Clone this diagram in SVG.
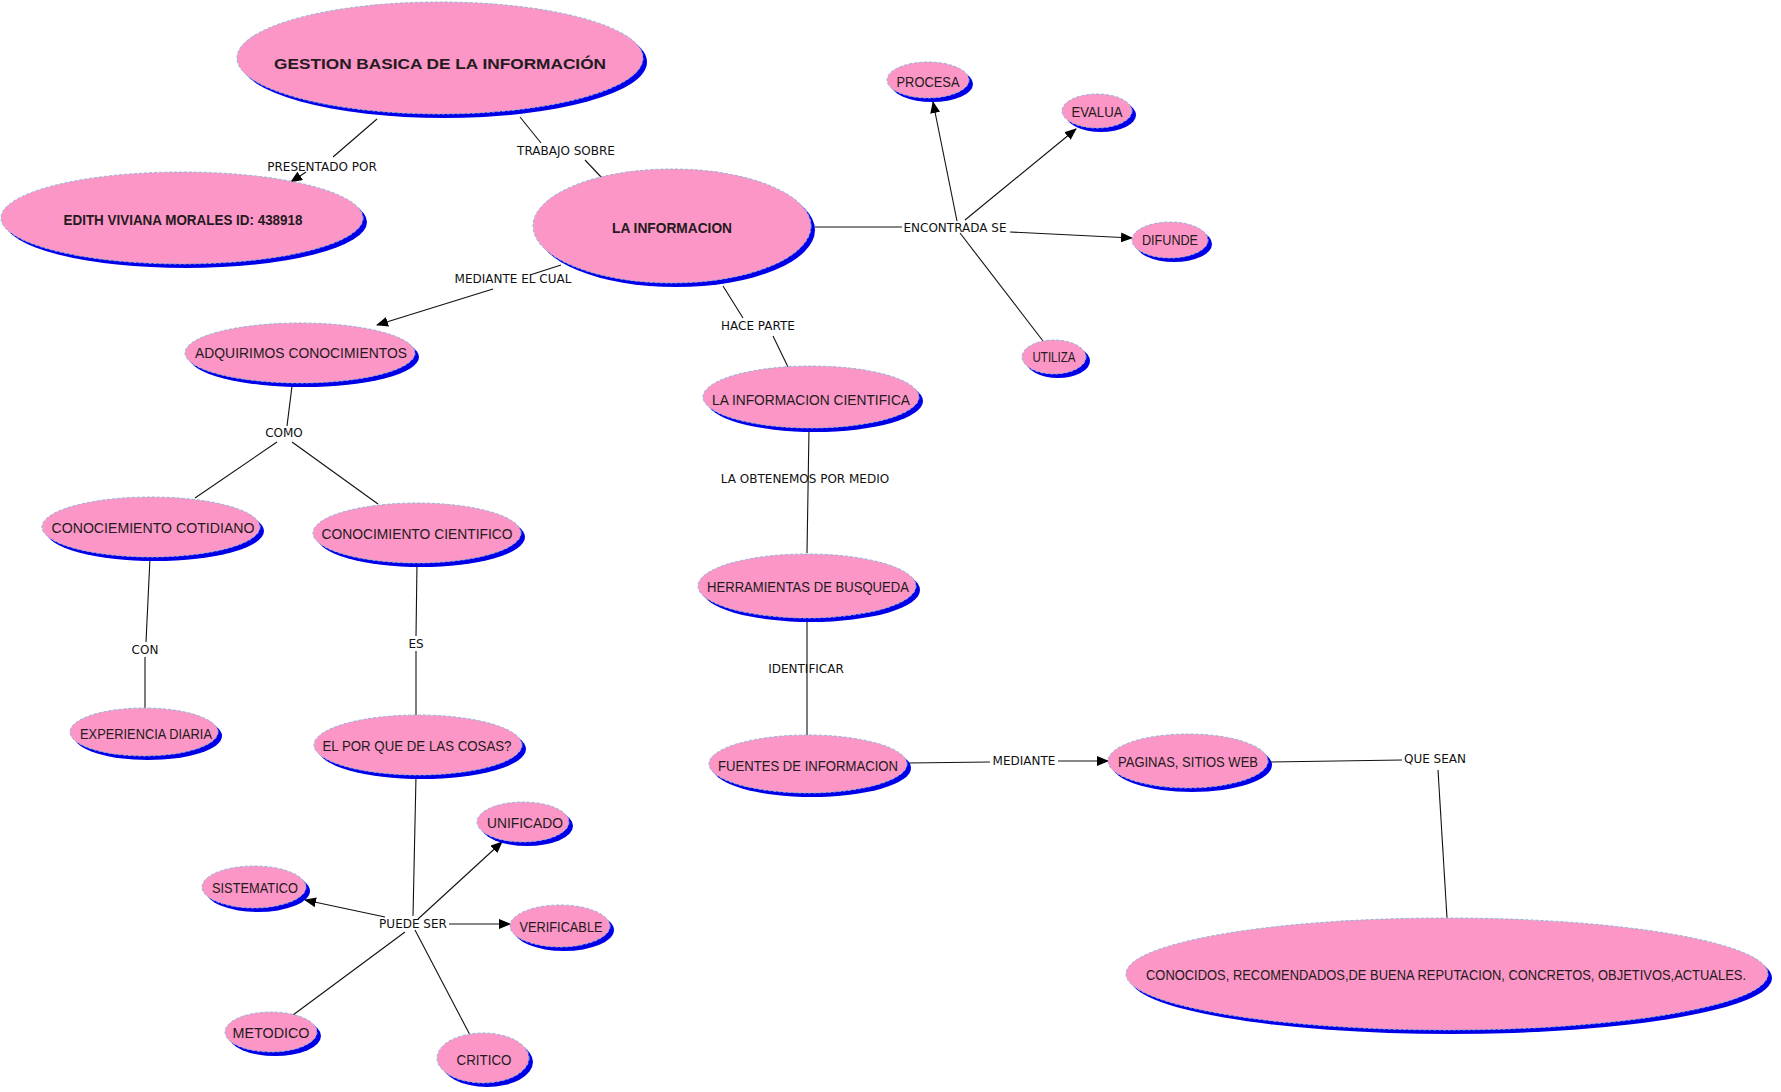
<svg xmlns="http://www.w3.org/2000/svg" width="1781" height="1092" viewBox="0 0 1781 1092">
<style>
.s{fill:#0000e8}
.n{fill:#fb96c6;stroke:#8ab6d6;stroke-width:1;stroke-dasharray:3 2}
.t{font-family:"Liberation Sans",Arial,sans-serif;font-size:15px;fill:#241a20;text-anchor:middle}
.b{font-weight:bold}
.l{font-family:"DejaVu Sans",Verdana,sans-serif;font-size:12px;fill:#111;text-anchor:middle}
.c line{stroke:#111;stroke-width:1.1;fill:none}
.c line.a{marker-end:url(#ah)}
</style>
<defs>
<marker id="ah" markerUnits="userSpaceOnUse" markerWidth="12" markerHeight="10" refX="11" refY="5" orient="auto">
<path d="M0,0 L12,5 L0,10 z" fill="#000"/>
</marker>
</defs>
<rect width="1781" height="1092" fill="#fff"/>
<g class="c" id="connectors">
<line x1="377" y1="119" x2="333" y2="157"/>
<line class="a" x1="306" y1="172" x2="291" y2="182"/>
<line x1="520" y1="117" x2="541" y2="143"/>
<line x1="585" y1="160" x2="602" y2="178"/>
<line x1="561" y1="265" x2="530" y2="275"/>
<line class="a" x1="493" y1="289" x2="377" y2="325"/>
<line x1="723" y1="286" x2="743" y2="318"/>
<line x1="773" y1="336" x2="788" y2="367"/>
<line x1="815" y1="227" x2="902" y2="227"/>
<line class="a" x1="957" y1="221" x2="933" y2="102"/>
<line class="a" x1="965" y1="220" x2="1076" y2="129"/>
<line class="a" x1="1010" y1="232" x2="1132" y2="238"/>
<line x1="960" y1="233" x2="1043" y2="341"/>
<line x1="292" y1="386" x2="287" y2="426"/>
<line x1="277" y1="442" x2="195" y2="498"/>
<line x1="292" y1="442" x2="378" y2="504"/>
<line x1="150" y1="558" x2="146" y2="642"/>
<line x1="145" y1="657" x2="145" y2="708"/>
<line x1="417" y1="563" x2="416" y2="636"/>
<line x1="416" y1="651" x2="416" y2="715"/>
<line x1="416" y1="776" x2="413" y2="916"/>
<line class="a" x1="385" y1="917" x2="305" y2="900"/>
<line class="a" x1="418" y1="919" x2="502" y2="842"/>
<line class="a" x1="449" y1="924" x2="510" y2="924"/>
<line x1="405" y1="932" x2="293" y2="1015"/>
<line x1="415" y1="930" x2="470" y2="1035"/>
<line x1="809" y1="429" x2="807" y2="553"/>
<line x1="807" y1="619" x2="807" y2="735"/>
<line x1="908" y1="763" x2="990" y2="762"/>
<line class="a" x1="1058" y1="761" x2="1108" y2="761"/>
<line x1="1270" y1="762" x2="1402" y2="760"/>
<line x1="1438" y1="770" x2="1447" y2="918"/>
</g>
<g id="labels">
<text class="l" x="322" y="171">PRESENTADO POR</text>
<text class="l" x="566" y="155">TRABAJO SOBRE</text>
<text class="l" x="513" y="283">MEDIANTE EL CUAL</text>
<text class="l" x="758" y="330">HACE PARTE</text>
<text class="l" x="955" y="232">ENCONTRADA SE</text>
<text class="l" x="284" y="437">COMO</text>
<text class="l" x="145" y="654">CON</text>
<text class="l" x="416" y="648">ES</text>
<text class="l" x="413" y="928">PUEDE SER</text>
<text class="l" x="805" y="483">LA OBTENEMOS POR MEDIO</text>
<text class="l" x="806" y="673">IDENTIFICAR</text>
<text class="l" x="1024" y="765">MEDIANTE</text>
<text class="l" x="1435" y="763">QUE SEAN</text>
</g>
<g id="n-gestion"><ellipse class="s" cx="444" cy="62" rx="203" ry="56"/><ellipse class="n" cx="440" cy="58" rx="203" ry="56"/><text class="t b" x="440" y="69" font-size="19" textLength="332" lengthAdjust="spacingAndGlyphs">GESTION BASICA DE LA INFORMACIÓN</text></g>
<g id="n-edith"><ellipse class="s" cx="186" cy="222" rx="181" ry="46"/><ellipse class="n" cx="182" cy="218" rx="181" ry="46"/><text class="t b" x="183" y="225" textLength="239" lengthAdjust="spacingAndGlyphs">EDITH VIVIANA MORALES ID: 438918</text></g>
<g id="n-lainfo"><ellipse class="s" cx="676" cy="230" rx="139" ry="57"/><ellipse class="n" cx="672" cy="226" rx="139" ry="57"/><text class="t b" x="672" y="233" textLength="120" lengthAdjust="spacingAndGlyphs">LA INFORMACION</text></g>
<g id="n-procesa"><ellipse class="s" cx="932" cy="84" rx="41" ry="18"/><ellipse class="n" cx="928" cy="80" rx="41" ry="18"/><text class="t" x="928" y="87" textLength="63" lengthAdjust="spacingAndGlyphs">PROCESA</text></g>
<g id="n-evalua"><ellipse class="s" cx="1101" cy="115" rx="35" ry="17"/><ellipse class="n" cx="1097" cy="111" rx="35" ry="17"/><text class="t" x="1097" y="117" textLength="51" lengthAdjust="spacingAndGlyphs">EVALUA</text></g>
<g id="n-difunde"><ellipse class="s" cx="1174" cy="244" rx="38" ry="18"/><ellipse class="n" cx="1170" cy="240" rx="38" ry="18"/><text class="t" x="1170" y="245" textLength="56" lengthAdjust="spacingAndGlyphs">DIFUNDE</text></g>
<g id="n-utiliza"><ellipse class="s" cx="1058" cy="361" rx="32" ry="17"/><ellipse class="n" cx="1054" cy="357" rx="32" ry="17"/><text class="t" x="1054" y="362" textLength="43" lengthAdjust="spacingAndGlyphs">UTILIZA</text></g>
<g id="n-adquirimos"><ellipse class="s" cx="304" cy="357" rx="115" ry="30"/><ellipse class="n" cx="300" cy="353" rx="115" ry="30"/><text class="t" x="301" y="358" textLength="212" lengthAdjust="spacingAndGlyphs">ADQUIRIMOS CONOCIMIENTOS</text></g>
<g id="n-cotidiano"><ellipse class="s" cx="155" cy="531" rx="109" ry="30"/><ellipse class="n" cx="151" cy="527" rx="109" ry="30"/><text class="t" x="153" y="533" textLength="203" lengthAdjust="spacingAndGlyphs">CONOCIEMIENTO COTIDIANO</text></g>
<g id="n-cientifico"><ellipse class="s" cx="421" cy="537" rx="104" ry="30"/><ellipse class="n" cx="417" cy="533" rx="104" ry="30"/><text class="t" x="417" y="539" textLength="191" lengthAdjust="spacingAndGlyphs">CONOCIMIENTO CIENTIFICO</text></g>
<g id="n-experiencia"><ellipse class="s" cx="148" cy="736" rx="74" ry="24"/><ellipse class="n" cx="144" cy="732" rx="74" ry="24"/><text class="t" x="146" y="739" textLength="132" lengthAdjust="spacingAndGlyphs">EXPERIENCIA DIARIA</text></g>
<g id="n-porque"><ellipse class="s" cx="422" cy="749" rx="104" ry="30"/><ellipse class="n" cx="418" cy="745" rx="104" ry="30"/><text class="t" x="417" y="751" textLength="189" lengthAdjust="spacingAndGlyphs">EL POR QUE DE LAS COSAS?</text></g>
<g id="n-infocientifica"><ellipse class="s" cx="815" cy="401" rx="108" ry="31"/><ellipse class="n" cx="811" cy="397" rx="108" ry="31"/><text class="t" x="811" y="405" textLength="198" lengthAdjust="spacingAndGlyphs">LA INFORMACION CIENTIFICA</text></g>
<g id="n-herramientas"><ellipse class="s" cx="811" cy="590" rx="109" ry="32"/><ellipse class="n" cx="807" cy="586" rx="109" ry="32"/><text class="t" x="808" y="592" textLength="202" lengthAdjust="spacingAndGlyphs">HERRAMIENTAS DE BUSQUEDA</text></g>
<g id="n-fuentes"><ellipse class="s" cx="812" cy="768" rx="99" ry="29"/><ellipse class="n" cx="808" cy="764" rx="99" ry="29"/><text class="t" x="808" y="771" textLength="180" lengthAdjust="spacingAndGlyphs">FUENTES DE INFORMACION</text></g>
<g id="n-paginas"><ellipse class="s" cx="1192" cy="765" rx="80" ry="27"/><ellipse class="n" cx="1188" cy="761" rx="80" ry="27"/><text class="t" x="1188" y="767" textLength="140" lengthAdjust="spacingAndGlyphs">PAGINAS, SITIOS WEB</text></g>
<g id="n-conocidos"><ellipse class="s" cx="1451" cy="978" rx="321" ry="56"/><ellipse class="n" cx="1447" cy="974" rx="321" ry="56"/><text class="t" x="1446" y="980" font-size="13" textLength="600" lengthAdjust="spacingAndGlyphs">CONOCIDOS, RECOMENDADOS,DE BUENA REPUTACION, CONCRETOS, OBJETIVOS,ACTUALES.</text></g>
<g id="n-unificado"><ellipse class="s" cx="527" cy="826" rx="46" ry="20"/><ellipse class="n" cx="523" cy="822" rx="46" ry="20"/><text class="t" x="525" y="828" textLength="76" lengthAdjust="spacingAndGlyphs">UNIFICADO</text></g>
<g id="n-sistematico"><ellipse class="s" cx="258" cy="891" rx="52" ry="21"/><ellipse class="n" cx="254" cy="887" rx="52" ry="21"/><text class="t" x="255" y="893" textLength="86" lengthAdjust="spacingAndGlyphs">SISTEMATICO</text></g>
<g id="n-verificable"><ellipse class="s" cx="564" cy="930" rx="50" ry="21"/><ellipse class="n" cx="560" cy="926" rx="50" ry="21"/><text class="t" x="561" y="932" textLength="83" lengthAdjust="spacingAndGlyphs">VERIFICABLE</text></g>
<g id="n-metodico"><ellipse class="s" cx="275" cy="1036" rx="46" ry="20"/><ellipse class="n" cx="271" cy="1032" rx="46" ry="20"/><text class="t" x="271" y="1038" textLength="77" lengthAdjust="spacingAndGlyphs">METODICO</text></g>
<g id="n-critico"><ellipse class="s" cx="487" cy="1062" rx="46" ry="25"/><ellipse class="n" cx="483" cy="1058" rx="46" ry="25"/><text class="t" x="484" y="1065" textLength="55" lengthAdjust="spacingAndGlyphs">CRITICO</text></g>
</svg>
